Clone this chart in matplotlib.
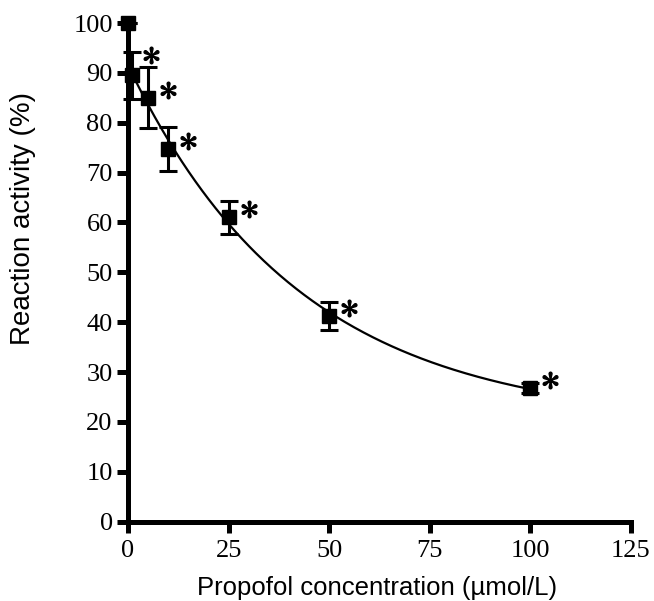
import numpy as np
import matplotlib.pyplot as plt
from matplotlib.transforms import offset_copy

plt.rcParams['mathtext.fontset'] = 'stix'

# propofol concentration (umol/L) vs reaction activity (%)
conc = [0, 1, 5, 10, 25, 50, 100]
activity = [100, 89.5, 85, 74.8, 61, 41.2, 26.8]
sem = [0, 4.7, 6.1, 4.4, 3.4, 2.8, 1.0]
signif = [False, True, True, True, True, True, True]

# one-phase exponential decay fit: y = plateau + span * exp(-k x)
x = np.array(conc[1:], dtype=float)
y = np.array(activity[1:], dtype=float)
best = None
for k in np.linspace(0.005, 0.1, 400):
    A = np.column_stack([np.ones_like(x), np.exp(-k * x)])
    coef, _, _, _ = np.linalg.lstsq(A, y, rcond=None)
    err = np.sum((A @ coef - y) ** 2)
    if best is None or err < best[0]:
        best = (err, k, coef)
_, k_fit, (plateau, span) = best
xs = np.linspace(0, 100, 300)
ys = plateau + span * np.exp(-k_fit * xs)

fig = plt.figure(figsize=(6.54, 6.01), dpi=100)
ax = fig.add_axes([0.1957, 0.132, 0.769, 0.8297])

ax.plot(xs, ys, color='black', lw=1.6, zorder=2)
ax.errorbar(conc, activity, yerr=sem, fmt='s', color='black', ms=10.5,
            elinewidth=2.2, capsize=6.5, capthick=2.2, zorder=3, clip_on=False)

# significance asterisks, shifted right/up of each point (in pixels)
for cx, cy, s in zip(conc, activity, signif):
    if not s:
        continue
    dx, dy = (19, 20) if cx == 1 else (20, 8)
    tr = offset_copy(ax.transData, fig=fig, x=dx, y=dy, units='dots')
    ax.plot([cx], [cy], marker=r'$\ast$', ms=12, color='black',
            transform=tr, clip_on=False, linestyle='none')

ax.set_xlim(0, 125)
ax.set_ylim(0, 100)
ax.set_xticks([0, 25, 50, 75, 100, 125])
ax.set_yticks(range(0, 101, 10))
for side in ['top', 'right']:
    ax.spines[side].set_visible(False)
for side in ['left', 'bottom']:
    ax.spines[side].set_linewidth(3.6)
ax.tick_params(width=3.6, length=8, labelsize=19)
ax.tick_params(axis='x', pad=5)
ax.tick_params(axis='y', pad=3)
for lbl in ax.get_xticklabels() + ax.get_yticklabels():
    lbl.set_fontfamily('Liberation Serif')

ax.set_xlabel('Propofol concentration (µmol/L)', fontsize=18.5,
              fontfamily='Liberation Sans')
ax.set_ylabel('Reaction activity (%)', fontsize=20,
              fontfamily='Liberation Sans')
ax.xaxis.set_label_coords(0.496, -0.108)
ax.yaxis.set_label_coords(-0.183, 0.607)

fig.savefig('out.png', dpi=100)
